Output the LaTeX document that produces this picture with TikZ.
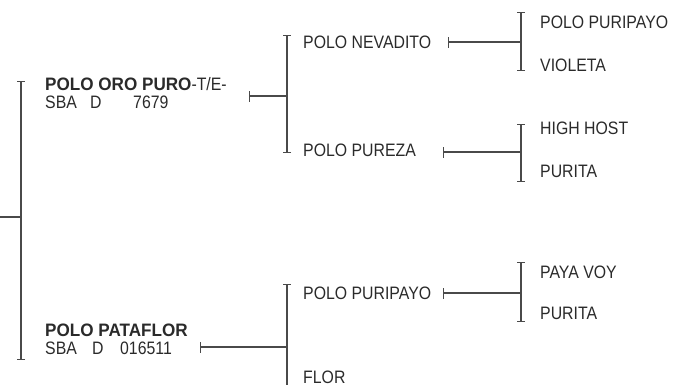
\documentclass[tikz,border=0pt]{standalone}
\usepackage{fontspec}
\usetikzlibrary{arrows.meta}
\newfontfamily\rg{Liberation Sans}[FakeStretch=0.88]
\newfontfamily\bd{Liberation Sans}[FakeStretch=0.95]
\definecolor{txt}{HTML}{2A2A2A}
\definecolor{ln}{HTML}{4A4A4A}
\tikzset{
  lbl/.style={anchor=base west, inner sep=0pt, text height=13pt, text depth=1pt, text=txt, font=\rg\fontsize{18}{19}\selectfont},
  brk/.style={draw=ln, line width=1.3pt, {Bar[width=8pt]}-{Bar[width=8pt]}},
  conn/.style={draw=ln, line width=1.3pt, {Bar[width=11pt]}-},
  stem/.style={draw=ln, line width=1.3pt}
}
\begin{document}
\begin{tikzpicture}[x=1pt,y=-1pt]
\clip (0,0) rectangle (676,384);
% level 1
\node[lbl] (oro) at (45,90) {{\bd\bfseries POLO ORO PURO}-T/E-};
\node[lbl] (oro2) at (45,108) {\makebox[45pt][l]{SBA}\makebox[43pt][l]{D}7679};
\node[lbl] (pata) at (45,336) {{\bd\bfseries POLO PATAFLOR}};
\node[lbl] (pata2) at (45,354) {\makebox[47pt][l]{SBA}\makebox[28pt][l]{D}016511};
% level 2
\node[lbl] (nev) at (303,48) {POLO NEVADITO};
\node[lbl] (pur) at (303,156) {POLO PUREZA};
\node[lbl] (puri) at (303,299) {POLO PURIPAYO};
\node[lbl, text depth=0pt] (flor) at (303,383) {FLOR};
% level 3
\node[lbl] (a1) at (540,28) {POLO PURIPAYO};
\node[lbl] (a2) at (540,71) {VIOLETA};
\node[lbl] (b1) at (540,134) {HIGH HOST};
\node[lbl] (b2) at (540,177) {PURITA};
\node[lbl] (c1) at (540,278) {PAYA VOY};
\node[lbl] (c2) at (540,319) {PURITA};
% coordinates
\coordinate (L0) at (0,217);
\coordinate (L1t) at (21,81);
\coordinate (L1b) at (21,360);
\coordinate (L1m) at (21,217);
\coordinate (oroT) at (249,96);
\coordinate (M1t) at (287,35);
\coordinate (M1b) at (287,153);
\coordinate (M1m) at (287,96);
\coordinate (pataT) at (200,347);
\coordinate (M2t) at (287,284);
\coordinate (M2b) at (287,408);
\coordinate (M2m) at (287,347);
\coordinate (nevT) at (448,42);
\coordinate (R1t) at (521,12);
\coordinate (R1b) at (521,71);
\coordinate (R1m) at (521,42);
\coordinate (purT) at (443,152);
\coordinate (R2t) at (521,124);
\coordinate (R2b) at (521,182);
\coordinate (R2m) at (521,152);
\coordinate (puriT) at (443,293);
\coordinate (R3t) at (521,262);
\coordinate (R3b) at (521,322);
\coordinate (R3m) at (521,293);
% drawing
\draw[stem] (L0) -- (L1m);
\draw[brk] (L1t) -- (L1b);
\draw[conn] (oroT) -- (M1m);
\draw[brk] (M1t) -- (M1b);
\draw[conn] (pataT) -- (M2m);
\draw[brk] (M2t) -- (M2b);
\draw[conn] (nevT) -- (R1m);
\draw[brk] (R1t) -- (R1b);
\draw[conn] (purT) -- (R2m);
\draw[brk] (R2t) -- (R2b);
\draw[conn] (puriT) -- (R3m);
\draw[brk] (R3t) -- (R3b);
\end{tikzpicture}
\end{document}
